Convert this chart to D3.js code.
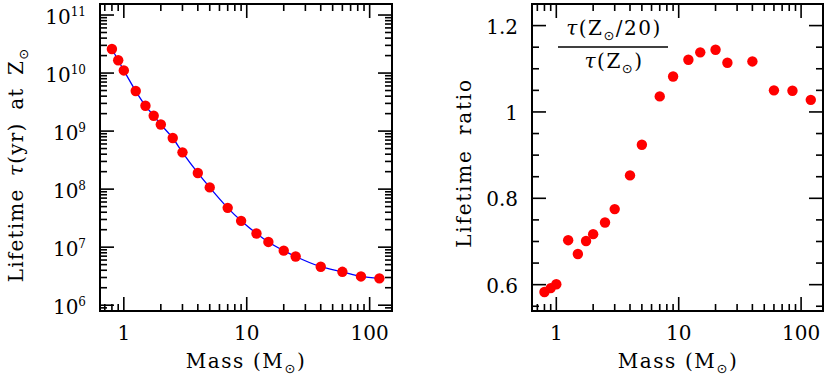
<!DOCTYPE html>
<html>
<head>
<meta charset="utf-8">
<script src="https://cdn.jsdelivr.net/npm/d3@7"></script>
</head>
<body style="margin:0; background:#fff">
<svg id="canvas" width="831" height="380" font-family="DejaVu Serif, serif"></svg>
<script>
// stellar masses (Msun)
let masses = [0.8, 0.9, 1, 1.25, 1.5, 1.75, 2, 2.5, 3, 4, 5, 7, 9, 12, 15, 20, 25, 40, 60, 85, 120];
// lifetime at solar metallicity (yr)
let lifetimes = [2.6e10, 1.66e10, 1.11e10, 4.9e9, 2.73e9, 1.84e9, 1.30e9, 7.6e8, 4.3e8, 1.9e8, 1.07e8,
                 4.76e7, 2.84e7, 1.72e7, 1.23e7, 8.7e6, 6.9e6, 4.6e6, 3.76e6, 3.13e6, 2.9e6];
// tau(Z/20) / tau(Z)
let ratios = [0.583, 0.592, 0.601, 0.703, 0.671, 0.701, 0.717, 0.744, 0.775, 0.853, 0.924,
              1.036, 1.082, 1.121, 1.138, 1.144, 1.114, 1.117, 1.050, 1.049, 1.028];

let massMajor = [1, 10, 100];
let massMinor = [0.7, 0.8, 0.9, 2, 3, 4, 5, 6, 7, 8, 9, 20, 30, 40, 50, 60, 70, 80, 90];
let lifeMajor = [1e6, 1e7, 1e8, 1e9, 1e10, 1e11];
let lifeMinor = [8e5, 9e5];
for (let e = 6; e <= 10; e++) {
    for (let m = 2; m <= 9; m++) lifeMinor.push(m * Math.pow(10, e));
}
let ratioMajor = [0.6, 0.8, 1, 1.2];
let ratioMinor = [0.55, 0.65, 0.7, 0.75, 0.85, 0.9, 0.95, 1.05, 1.1, 1.15];

let canvas = d3.select('#canvas');

let xL = d3.scaleLog().domain([0.64, 152]).range([100, 392]);
let yL = d3.scaleLog().domain([Math.pow(10, 5.9), Math.pow(10, 11.19)]).range([311, 4]);
let xR = d3.scaleLog().domain([0.633, 151]).range([532, 823]);
let yR = d3.scaleLinear().domain([0.539, 1.25]).range([311, 4]);

// inward tick marks as thin filled bars: [x, y, w, h]
let tickBars = (x, y, xMaj, xMin, yMaj, yMin) => {
    let [x0, x1] = x.range();
    let [y0, y1] = y.range();
    let w = 1.6;
    let bars = [];
    let vert = (v, len) => {
        bars.push([x(v) - w / 2, y0 - len, w, len]);
        bars.push([x(v) - w / 2, y1, w, len]);
    };
    let horiz = (v, len) => {
        bars.push([x0, y(v) - w / 2, len, w]);
        bars.push([x1 - len, y(v) - w / 2, len, w]);
    };
    xMaj.forEach((v) => vert(v, 14));
    xMin.forEach((v) => vert(v, 7));
    yMaj.forEach((v) => horiz(v, 14));
    yMin.forEach((v) => horiz(v, 7));
    return bars;
};

let drawFrame = (g, x, y, xMaj, xMin, yMaj, yMin) => {
    let [x0, x1] = x.range();
    let [y0, y1] = y.range();

    g.selectAll('rect.tk')
        .data(tickBars(x, y, xMaj, xMin, yMaj, yMin))
        .enter()
        .append('rect')
        .attr('class', 'tk')
        .attr('x', (b) => b[0])
        .attr('y', (b) => b[1])
        .attr('width', (b) => b[2])
        .attr('height', (b) => b[3])
        .attr('fill', '#000');

    g.append('rect')
        .attr('x', x0).attr('y', y1)
        .attr('width', x1 - x0).attr('height', y0 - y1)
        .attr('fill', 'none').attr('stroke', '#000').attr('stroke-width', 2);

    g.selectAll('text.xt')
        .data(xMaj)
        .enter()
        .append('text')
        .attr('class', 'xt')
        .attr('x', (d) => x(d))
        .attr('y', 340)
        .attr('text-anchor', 'middle')
        .attr('font-size', 20)
        .text((d) => d);
};

// ---------- left panel ----------
let left = canvas.append('g');
drawFrame(left, xL, yL, massMajor, massMinor, lifeMajor, lifeMinor);

left.selectAll('text.yt')
    .data(lifeMajor)
    .enter()
    .append('text')
    .attr('class', 'yt')
    .attr('x', 86)
    .attr('y', (d) => yL(d) + 9)
    .attr('text-anchor', 'end')
    .each(function (d) {
        let txt = d3.select(this);
        txt.append('tspan').attr('font-size', 20).text('10');
        txt.append('tspan').attr('font-size', 12).attr('dy', -8).text(Math.round(Math.log10(d)));
    });

let lineL = d3.line()
    .x((d, i) => xL(masses[i]))
    .y((d) => yL(d))
    .curve(d3.curveMonotoneX);
left.append('path')
    .attr('d', lineL(lifetimes))
    .attr('fill', 'none')
    .attr('stroke', '#0000ff')
    .attr('stroke-width', 1.3);

left.selectAll('circle')
    .data(lifetimes)
    .enter()
    .append('circle')
    .attr('cx', (d, i) => xL(masses[i]))
    .attr('cy', (d) => yL(d))
    .attr('r', 5.2)
    .attr('fill', '#ff0000');

// ---------- right panel ----------
let right = canvas.append('g');
drawFrame(right, xR, yR, massMajor, massMinor, ratioMajor, ratioMinor);

right.selectAll('text.yt')
    .data(ratioMajor)
    .enter()
    .append('text')
    .attr('class', 'yt')
    .attr('x', 518)
    .attr('y', (d) => yR(d) + 8)
    .attr('text-anchor', 'end')
    .attr('font-size', 20)
    .text((d) => d === 1 ? '1' : d3.format('.1f')(d));

right.selectAll('circle')
    .data(ratios)
    .enter()
    .append('circle')
    .attr('cx', (d, i) => xR(masses[i]))
    .attr('cy', (d) => yR(d))
    .attr('r', 5.2)
    .attr('fill', '#ff0000');

// ---------- labels ----------
let sunSub = (sel) => {
    sel.append('tspan').attr('font-size', 13).attr('dy', 5)
        .attr('font-family', 'DejaVu Sans, sans-serif').text('\u2299');
};

let massLabel = (cx) => {
    let t = canvas.append('text')
        .attr('x', cx).attr('y', 368)
        .attr('text-anchor', 'middle')
        .attr('font-size', 20)
        .attr('letter-spacing', 1.6);
    t.append('tspan').text('Mass (M');
    sunSub(t);
    t.append('tspan').attr('dy', -5).text(')');
};
massLabel(246);
massLabel(678);

let yl = canvas.append('text')
    .attr('transform', 'translate(23,165) rotate(-90)')
    .attr('text-anchor', 'middle')
    .attr('font-size', 20)
    .attr('letter-spacing', 1.2)
    .attr('word-spacing', 5);
yl.append('tspan').text('Lifetime ');
yl.append('tspan').attr('font-style', 'italic').text('\u03c4');
yl.append('tspan').text('(yr) at Z');
sunSub(yl);

canvas.append('text')
    .attr('transform', 'translate(471,163) rotate(-90)')
    .attr('text-anchor', 'middle')
    .attr('font-size', 20)
    .attr('letter-spacing', 1.8)
    .attr('word-spacing', 6)
    .text('Lifetime ratio');

// fraction annotation
let num = canvas.append('text')
    .attr('x', 614).attr('y', 35)
    .attr('text-anchor', 'middle')
    .attr('font-size', 20)
    .attr('letter-spacing', 1.5);
num.append('tspan').attr('font-style', 'italic').text('\u03c4');
num.append('tspan').text('(Z');
sunSub(num);
num.append('tspan').attr('dy', -5).text('/20)');

canvas.append('line')
    .attr('x1', 558).attr('x2', 668)
    .attr('y1', 47).attr('y2', 47)
    .attr('stroke', '#000').attr('stroke-width', 1.5);

let den = canvas.append('text')
    .attr('x', 614).attr('y', 68)
    .attr('text-anchor', 'middle')
    .attr('font-size', 20)
    .attr('letter-spacing', 1.5);
den.append('tspan').attr('font-style', 'italic').text('\u03c4');
den.append('tspan').text('(Z');
sunSub(den);
den.append('tspan').attr('dy', -5).text(')');
</script>
</body>
</html>
